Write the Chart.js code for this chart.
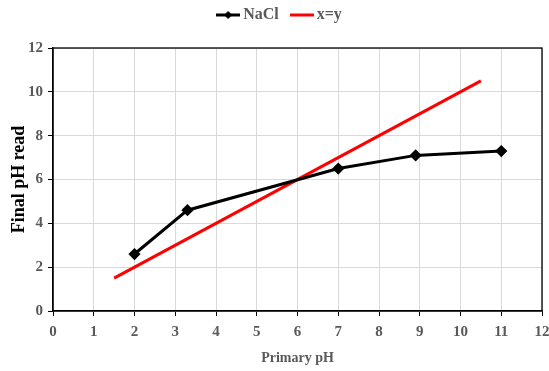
<!DOCTYPE html>
<html>
<head>
<meta charset="utf-8">
<script src="https://cdn.jsdelivr.net/npm/chart.js@4/dist/chart.umd.min.js"></script>
<style>
  html, body { margin: 0; padding: 0; background: #fff; }
  #wrap { width: 549px; height: 371px; }
</style>
</head>
<body>
<div id="wrap"><canvas id="chart" width="549" height="371"></canvas></div>
<script>
// data
const naclX = [2, 3.3, 7, 8.9, 11];
const naclY = [2.6, 4.6, 6.5, 7.1, 7.3];
const refX = [1.5, 10.5];
const refY = [1.5, 10.5];
const xTicks = [0, 1, 2, 3, 4, 5, 6, 7, 8, 9, 10, 11, 12];
const yTicks = [0, 2, 4, 6, 8, 10, 12];

const toPts = (xs, ys) => xs.map((x, i) => ({ x, y: ys[i] }));

// legend swatches: line with a diamond / plain line
function swatch(color, diamond) {
  const c = document.createElement("canvas");
  c.width = 24; c.height = 12;
  const g = c.getContext("2d");
  g.strokeStyle = color; g.lineWidth = 3;
  g.beginPath(); g.moveTo(0, 6); g.lineTo(24, 6); g.stroke();
  if (diamond) {
    g.fillStyle = color;
    g.beginPath(); g.moveTo(12, 2); g.lineTo(16, 6); g.lineTo(12, 10); g.lineTo(8, 6); g.closePath(); g.fill();
  }
  return c;
}
const naclSwatch = swatch("#000", true);
const refSwatch = swatch("#ff0000", false);

// legend text sits higher than chart.js puts it, with more room below
const legendShift = {
  id: "legendShift",
  afterInit(chart) {
    const lg = chart.legend;
    const draw = lg.draw, fit = lg.fit;
    lg.fit = function () { fit.call(this); this.height += 6; };
    lg.draw = function () {
      const g = this.ctx;
      g.save(); g.translate(7, -9);
      draw.call(this);
      g.restore();
    };
  }
};

const boxPlugin = {
  id: "box",
  afterDraw(chart) {
    const a = chart.chartArea, g = chart.ctx;
    g.save();
    g.strokeStyle = "#000"; g.lineWidth = 1.3;
    g.strokeRect(a.left, a.top, a.right - a.left, a.bottom - a.top);
    g.restore();
  }
};

const serif = "'Liberation Serif', 'Times New Roman', serif";
const tickFont = { family: serif, size: 15, weight: "bold" };

new Chart(document.getElementById("chart"), {
  type: "scatter",
  data: {
    datasets: [
      {
        label: "NaCl",
        data: toPts(naclX, naclY),
        showLine: true,
        borderColor: "#000",
        backgroundColor: "#000",
        borderWidth: 3,
        pointStyle: "rectRot",
        pointRadius: 4,
        pointHoverRadius: 4,
        tension: 0,
      },
      {
        label: "x=y",
        data: toPts(refX, refY),
        showLine: true,
        borderColor: "#ff0000",
        backgroundColor: "#ff0000",
        borderWidth: 3,
        pointRadius: 0,
        pointHoverRadius: 0,
      },
    ],
  },
  options: {
    responsive: false,
    animation: false,
    layout: { padding: { top: 0, right: 0, left: 0, bottom: 0 } },
    plugins: {
      tooltip: { enabled: false },
      legend: {
        position: "top",
        labels: {
          usePointStyle: true,
          pointStyleWidth: 14,
          padding: 16,
          color: "#595959",
          font: { family: serif, size: 16, weight: "bold" },
          generateLabels: (chart) => chart.data.datasets.map((ds, i) => ({
            text: ds.label,
            pointStyle: i === 0 ? naclSwatch : refSwatch,
            fontColor: "#595959",
            strokeStyle: ds.borderColor,
            fillStyle: ds.backgroundColor,
            lineWidth: 0,
            datasetIndex: i,
          })),
        },
      },
    },
    scales: {
      x: {
        type: "linear",
        min: 0, max: 12,
        afterBuildTicks: (s) => { s.ticks = xTicks.map(v => ({ value: v })); },
        afterFit: (s) => { s.height = 60; s.paddingRight = 7; s.paddingLeft = 0; },
        border: { color: "#000", width: 1.3 },
        grid: { color: "#d9d9d9", tickColor: "#000", tickLength: 5 },
        ticks: { color: "#595959", font: tickFont, padding: 7, maxRotation: 0 },
        title: {
          display: true, text: "Primary pH", color: "#595959",
          font: { family: serif, size: 14, weight: "bold" },
          padding: { top: 6 },
        },
      },
      y: {
        type: "linear",
        min: 0, max: 12,
        afterBuildTicks: (s) => { s.ticks = yTicks.map(v => ({ value: v })); },
        afterFit: (s) => { s.width = 53; },
        border: { color: "#000", width: 1.3 },
        grid: { color: "#d9d9d9", tickColor: "#000", tickLength: 5 },
        ticks: { color: "#595959", font: tickFont, padding: 5 },
        title: {
          display: true, text: "Final pH read", color: "#000",
          font: { family: serif, size: 18, weight: "bold" },
          padding: { top: 9, bottom: 0 },
        },
      },
    },
  },
  plugins: [legendShift, boxPlugin],
});
</script>
</body>
</html>
